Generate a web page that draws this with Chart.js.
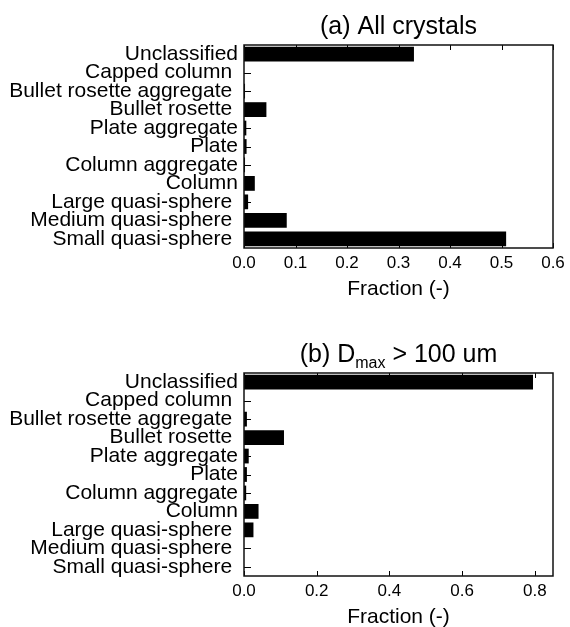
<!DOCTYPE html>
<html>
<head>
<meta charset="utf-8">
<title>Ice crystal habit fractions</title>
<script src="https://cdn.jsdelivr.net/npm/chart.js@4.4.1/dist/chart.umd.min.js"></script>
<style>
  html, body { margin: 0; padding: 0; background: #fff; overflow: hidden; }
  .panel { position: absolute; left: 0; width: 570px; height: 310px; }
  #panelA { top: 0; }
  #panelB { top: 328px; }
</style>
</head>
<body>
<div class="panel" id="panelA"><canvas id="chartAll" width="570" height="310"></canvas></div>
<div class="panel" id="panelB"><canvas id="chartLarge" width="570" height="310"></canvas></div>
<script>
/* ==========================
   DATA
========================== */
const categories = [
  "Unclassified",
  "Capped column ",
  "Bullet rosette aggregate ",
  "Bullet rosette ",
  "Plate aggregate",
  "Plate",
  "Column aggregate",
  "Column",
  "Large quasi-sphere ",
  "Medium quasi-sphere ",
  "Small quasi-sphere ",
];

// (a) all crystals
const fractionAll = [0.330, 0, 0.002, 0.0435, 0.0045, 0.005, 0.002, 0.021, 0.008, 0.083, 0.509];
// (b) Dmax > 100 um
const fractionLarge = [0.795, 0, 0.008, 0.110, 0.013, 0.008, 0.006, 0.040, 0.026, 0, 0];

const ticksAll = [0, 0.1, 0.2, 0.3, 0.4, 0.5, 0.6];
const ticksLarge = [0, 0.2, 0.4, 0.6, 0.8];
const xMaxAll = 0.6;
const xMaxLarge = 0.85;

const FONT = "'Liberation Sans', Arial, Helvetica, sans-serif";

/* ==========================
   PLUGINS
========================== */
// inward tick marks + box round the plot
const framePlugin = {
  id: "frame",
  beforeDatasetsDraw(chart) {
    const { ctx, chartArea: a, scales } = chart;
    ctx.save();
    ctx.strokeStyle = "#000";
    ctx.lineWidth = 1;
    ctx.beginPath();
    scales.x.ticks.forEach((t) => {
      const x = Math.round(scales.x.getPixelForValue(t.value)) + 0.5;
      ctx.moveTo(x, a.bottom);
      ctx.lineTo(x, a.bottom - 5);
      ctx.moveTo(x, a.top);
      ctx.lineTo(x, a.top + 5);
    });
    categories.forEach((c, i) => {
      const y = Math.round(scales.y.getPixelForValue(i)) + 0.5;
      ctx.moveTo(a.left, y);
      ctx.lineTo(a.left + 7, y);
    });
    ctx.stroke();
    ctx.restore();
  },
  afterDatasetsDraw(chart) {
    const { ctx, chartArea: a } = chart;
    ctx.save();
    ctx.strokeStyle = "#111";
    ctx.lineWidth = 1.5;
    ctx.strokeRect(a.left, a.top, a.right - a.left, a.bottom - a.top);
    ctx.restore();
  },
};

// panel title, centred on the plot, with optional subscript part
const panelTitlePlugin = {
  id: "panelTitle",
  afterDraw(chart, args, opts) {
    const parts = opts.parts || [];
    const { ctx, chartArea: a } = chart;
    ctx.save();
    ctx.fillStyle = "#000";
    ctx.textBaseline = "alphabetic";
    let total = 0;
    parts.forEach((p) => {
      ctx.font = p.size + "px " + FONT;
      p.w = ctx.measureText(p.text).width;
      total += p.w;
    });
    let x = (a.left + a.right) / 2 - total / 2;
    parts.forEach((p) => {
      ctx.font = p.size + "px " + FONT;
      ctx.fillText(p.text, x, opts.baseline + (p.dy || 0));
      x += p.w;
    });
    ctx.restore();
  },
};

/* ==========================
   CHARTS
========================== */
function createFractionChart(ctx, values, tickValues, xMax, titleParts) {
  return new Chart(ctx, {
    type: "bar",
    data: {
      labels: categories,
      datasets: [
        {
          data: values,
          backgroundColor: "#000",
          borderWidth: 0,
          barPercentage: 0.8,
          categoryPercentage: 1.0,
        },
      ],
    },
    options: {
      indexAxis: "y",
      responsive: false,
      animation: false,
      devicePixelRatio: 1,
      layout: { padding: { top: 45, right: 17, left: 0, bottom: 0 } },
      scales: {
        x: {
          type: "linear",
          min: 0,
          max: xMax,
          grid: { display: false, drawTicks: false },
          border: { display: false },
          afterBuildTicks: (scale) => {
            scale.ticks = tickValues.map((v) => ({ value: v }));
          },
          afterFit: (scale) => {
            scale.height = 62;
          },
          ticks: {
            autoSkip: false,
            maxRotation: 0,
            padding: 5,
            color: "#000",
            font: { family: FONT, size: 17 },
            callback: (v) => Number(v).toFixed(1),
          },
          title: {
            display: true,
            text: "Fraction (-)",
            color: "#000",
            font: { family: FONT, size: 21 },
            padding: { top: 0, bottom: 8 },
          },
        },
        y: {
          grid: { display: false, drawTicks: false },
          border: { display: false },
          afterFit: (scale) => {
            scale.width = 244;
          },
          ticks: {
            autoSkip: false,
            padding: 6,
            color: "#000",
            font: { family: FONT, size: 21 },
          },
        },
      },
      plugins: {
        legend: { display: false },
        tooltip: { enabled: false },
        panelTitle: { parts: titleParts, baseline: 34 },
      },
    },
    plugins: [framePlugin, panelTitlePlugin],
  });
}

/* ==========================
   INIT
========================== */
createFractionChart(
  document.getElementById("chartAll").getContext("2d"),
  fractionAll,
  ticksAll,
  xMaxAll,
  [{ text: "(a) All crystals", size: 25 }]
);

createFractionChart(
  document.getElementById("chartLarge").getContext("2d"),
  fractionLarge,
  ticksLarge,
  xMaxLarge,
  [
    { text: "(b) D", size: 25 },
    { text: "max", size: 16, dy: 6 },
    { text: " > 100 um", size: 25 },
  ]
);
</script>
</body>
</html>
